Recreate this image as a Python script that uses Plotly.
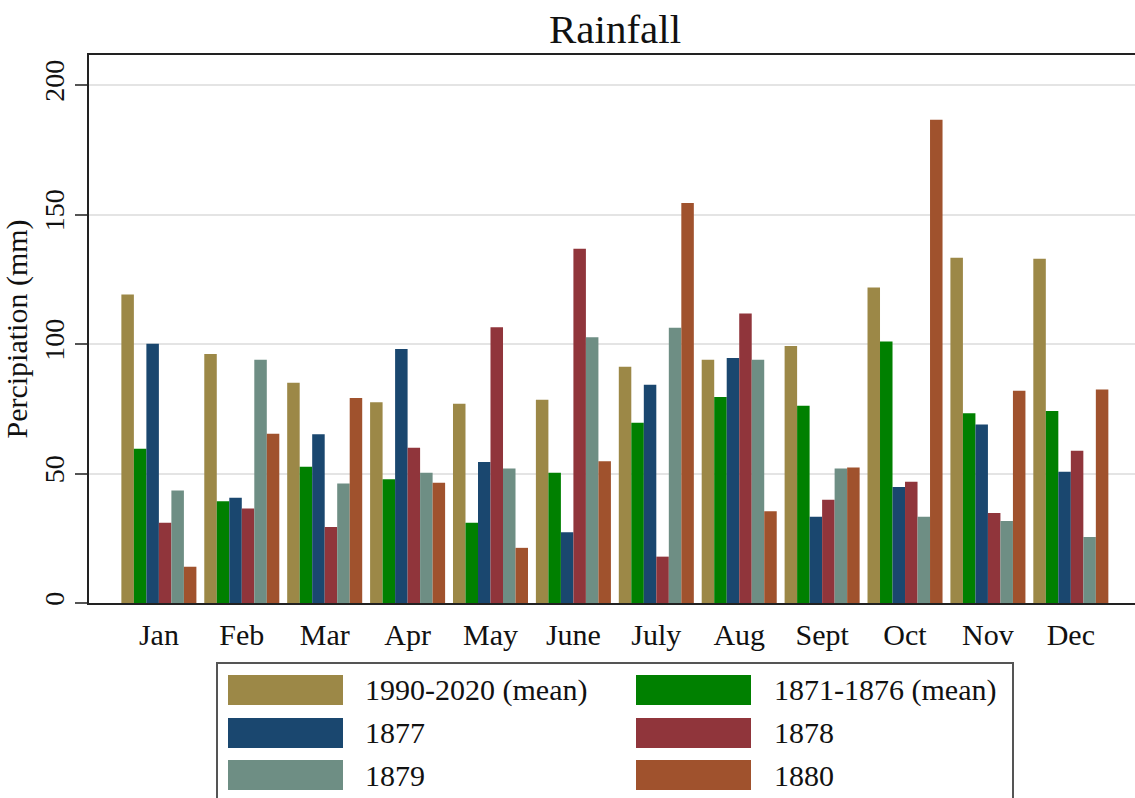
import plotly.graph_objects as go

# Monthly precipitation (mm)
months = ["Jan", "Feb", "Mar", "Apr", "May", "June", "July", "Aug", "Sept", "Oct", "Nov", "Dec"]

mean_1990_2020 = [119.1, 96.1, 85.0, 77.5, 76.9, 78.5, 91.2, 93.9, 99.2, 121.8, 133.3, 132.9]
mean_1871_1876 = [59.6, 39.3, 52.6, 47.8, 31.0, 50.3, 69.6, 79.5, 76.2, 101.0, 73.3, 74.1]
y1877 = [100.1, 40.6, 65.2, 98.1, 54.4, 27.3, 84.3, 94.6, 33.3, 44.8, 68.9, 50.7]
y1878 = [31.0, 36.5, 29.3, 59.9, 106.5, 136.8, 17.9, 111.8, 39.9, 46.8, 34.8, 58.8]
y1879 = [43.4, 93.9, 46.1, 50.3, 51.9, 102.6, 106.3, 93.9, 51.9, 33.3, 31.7, 25.5]
y1880 = [14.0, 65.4, 79.2, 46.4, 21.3, 54.7, 154.5, 35.4, 52.3, 186.6, 82.0, 82.4]

series_names = ["1990-2020 (mean)", "1871-1876 (mean)", "1877", "1878", "1879", "1880"]
series_values = [mean_1990_2020, mean_1871_1876, y1877, y1878, y1879, y1880]
series_colors = ["#9c8847", "#008000", "#1a476f", "#90353b", "#6e8e84", "#a0522d"]

FONT = "Liberation Serif"
W, H = 1135, 798
L, R, T, B = 89, 0, 55, 195
plot_w = W - L - R
plot_h = H - T - B


def px_x(px):
    return (px - L) / plot_w


def px_y(py):
    return (H - B - py) / plot_h


fig = go.Figure()
for name, vals, col in zip(series_names, series_values, series_colors):
    fig.add_trace(go.Bar(
        x=months, y=vals, name=name,
        marker=dict(color=col, line=dict(width=0)),
        showlegend=False,
    ))

# Boxed two-column key beneath the plot
shapes = [dict(
    type="rect", xref="paper", yref="paper",
    x0=px_x(217), x1=px_x(1013), y0=px_y(812), y1=px_y(663),
    line=dict(color="#555555", width=2), fillcolor="white", layer="above",
)]
annotations = []
col_sw = [228, 636]
col_tx = [363, 772]
row_cy = [690, 733, 775]
for i, (name, col) in enumerate(zip(series_names, series_colors)):
    c, r = i % 2, i // 2
    shapes.append(dict(
        type="rect", xref="paper", yref="paper",
        x0=px_x(col_sw[c]), x1=px_x(col_sw[c] + 115),
        y0=px_y(row_cy[r] + 15), y1=px_y(row_cy[r] - 15),
        line=dict(width=0), fillcolor=col, layer="above",
    ))
    annotations.append(dict(
        xref="paper", yref="paper", x=px_x(col_tx[c]), y=px_y(row_cy[r]),
        text=name, showarrow=False, xanchor="left", yanchor="middle",
        font=dict(family=FONT, size=30, color="#111111"),
    ))

fig.update_layout(
    width=W, height=H,
    margin=dict(l=L, r=R, t=T, b=B, pad=0),
    paper_bgcolor="white", plot_bgcolor="white",
    barmode="group", bargap=0.095, bargroupgap=0,
    font=dict(family=FONT, color="#111111"),
    title=dict(text="Rainfall", x=615 / W, xanchor="center",
               y=1 - 29 / H, yanchor="middle",
               font=dict(family=FONT, size=41, color="#111111")),
    shapes=shapes, annotations=annotations,
)
fig.update_xaxes(
    range=[-0.843, 11.774], showgrid=False, ticks="",
    showline=True, linecolor="#222222", linewidth=2, mirror=True,
    ticklabelstandoff=4,
    tickfont=dict(family=FONT, size=30, color="#111111"),
)
fig.update_yaxes(
    range=[0, 211.6], tickvals=[0, 50, 100, 150, 200],
    showgrid=True, gridcolor="#e4e4e4", gridwidth=2, zeroline=False,
    showline=True, linecolor="#222222", linewidth=2,
    ticks="outside", ticklen=12, tickwidth=2, tickcolor="#555555",
    tickangle=-90,
    tickfont=dict(family=FONT, size=28, color="#111111"),
    title=dict(text="Percipiation (mm)", standoff=3,
               font=dict(family=FONT, size=30, color="#111111")),
)

fig.write_html("out.html")
